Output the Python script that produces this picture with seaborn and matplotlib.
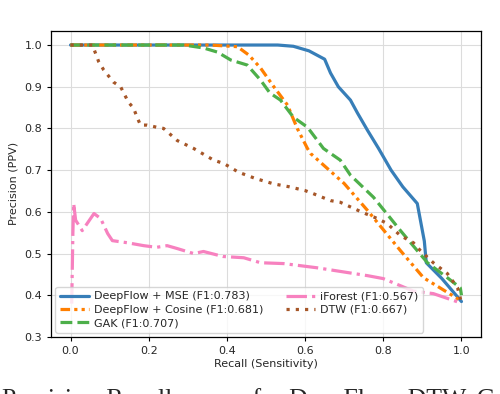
import matplotlib
matplotlib.use("Agg")
import matplotlib.pyplot as plt
import seaborn as sns
import pandas as pd

# Curvas precision-recall
mse_recall = [0.0, 0.1, 0.2, 0.3, 0.4, 0.5, 0.53, 0.57, 0.61, 0.65, 0.665, 0.685, 0.716, 0.734,
              0.76, 0.788, 0.82, 0.85, 0.887, 0.905, 0.91, 0.95, 1.0]
mse_prec = [1.0, 1.0, 1.0, 1.0, 1.0, 1.0, 1.0, 0.997, 0.986, 0.966, 0.933, 0.90, 0.868, 0.837,
            0.795, 0.752, 0.70, 0.66, 0.62, 0.53, 0.478, 0.44, 0.385]

cos_recall = [0.0, 0.2, 0.358, 0.427, 0.456, 0.486, 0.52, 0.555, 0.58, 0.606, 0.614, 0.70,
              0.76, 0.844, 0.903, 0.99, 1.0]
cos_prec = [1.0, 1.0, 1.0, 0.996, 0.976, 0.945, 0.90, 0.856, 0.80, 0.752, 0.74, 0.668,
            0.603, 0.507, 0.442, 0.392, 0.385]

gak_recall = [0.0, 0.29, 0.34, 0.376, 0.41, 0.452, 0.486, 0.51, 0.537, 0.57, 0.606, 0.647,
              0.69, 0.716, 0.775, 0.844, 0.913, 0.964, 0.997, 1.0]
gak_prec = [1.0, 1.0, 0.993, 0.983, 0.964, 0.952, 0.916, 0.885, 0.868, 0.827, 0.803, 0.752,
            0.724, 0.688, 0.635, 0.555, 0.478, 0.442, 0.418, 0.40]

if_recall = [0.003, 0.006, 0.008, 0.013, 0.03, 0.06, 0.077, 0.095, 0.107, 0.145, 0.187, 0.22,
             0.247, 0.273, 0.315, 0.34, 0.39, 0.443, 0.486, 0.545, 0.63, 0.76, 0.80, 0.877,
             0.928, 0.997]
if_prec = [0.38, 0.55, 0.62, 0.58, 0.555, 0.596, 0.584, 0.548, 0.531, 0.526, 0.519, 0.515,
           0.519, 0.512, 0.50, 0.505, 0.493, 0.49, 0.478, 0.476, 0.466, 0.447, 0.44, 0.41,
           0.404, 0.382]

dtw_recall = [0.0, 0.056, 0.064, 0.072, 0.085, 0.11, 0.128, 0.148, 0.161, 0.171, 0.179, 0.196,
              0.22, 0.238, 0.273, 0.315, 0.366, 0.392, 0.43, 0.473, 0.52, 0.56, 0.60, 0.62,
              0.665, 0.69, 0.746, 0.785, 0.81, 0.844, 0.877, 0.895, 0.928, 0.964, 0.99, 1.0]
dtw_prec = [1.0, 1.0, 0.98, 0.96, 0.94, 0.911, 0.90, 0.863, 0.849, 0.825, 0.808, 0.808,
            0.803, 0.80, 0.771, 0.752, 0.724, 0.716, 0.695, 0.68, 0.667, 0.66, 0.651, 0.644,
            0.627, 0.623, 0.599, 0.584, 0.572, 0.543, 0.526, 0.507, 0.478, 0.452, 0.418, 0.382]

labels = ["DeepFlow + MSE (F1:0.783)", "DeepFlow + Cosine (F1:0.681)", "GAK (F1:0.707)",
          "iForest (F1:0.567)", "DTW (F1:0.667)"]

sns.set_style("whitegrid", {"axes.edgecolor": "black", "grid.color": "#dcdcdc",
                            "xtick.bottom": True, "ytick.left": True})
plt.rcParams['font.family'] = ['DejaVu Sans']

pal = sns.color_palette("Set1")
colors = [pal[1], pal[4], pal[2], pal[7], pal[6]]
styles = ["-", (0, (3, 1.3, 1, 1.3, 1, 1.3)), (0, (3.7, 1.6)), (0, (6.4, 1.6, 1, 1.6)),
          (0, (1, 1.9))]

fig = plt.figure(figsize=(5, 3.94), dpi=100)
ax = fig.add_axes([0.102, 0.1447, 0.86, 0.777])

curvas = [(mse_recall, mse_prec), (cos_recall, cos_prec), (gak_recall, gak_prec),
          (if_recall, if_prec), (dtw_recall, dtw_prec)]
for (rx, py), lab, c, ls in zip(curvas, labels, colors, styles):
    df = pd.DataFrame({"recall": rx, "precision": py})
    sns.lineplot(data=df, x="recall", y="precision", ax=ax, sort=False, estimator=None,
                 color=c, linestyle=ls, linewidth=2.3, label=lab)

ax.set_xlim(-0.05, 1.05)
ax.set_ylim(0.3, 1.034)
ax.set_xticks([0.0, 0.2, 0.4, 0.6, 0.8, 1.0])
ax.set_yticks([0.3, 0.4, 0.5, 0.6, 0.7, 0.8, 0.9, 1.0])
ax.tick_params(labelsize=8, length=3, width=0.8, color="black")
for s in ax.spines.values():
    s.set_linewidth(0.9)
ax.set_xlabel("Recall (Sensitivity)", fontsize=8, labelpad=2)
ax.set_ylabel("Precision (PPV)", fontsize=8, labelpad=4)
ax.legend(ncol=2, loc="lower left", fontsize=8, labelspacing=0.3, handlelength=2.6,
          handletextpad=0.5, columnspacing=2.0, borderaxespad=0.4)

# pie de figura del articulo (cortado en el borde, como en el original)
fig.text(0.004, -0.03, "Precision-Recall curves for DeepFlow, DTW, GAK",
         family="Liberation Serif", fontsize=18.5, ha="left", va="baseline")

fig.savefig("out.png", dpi=100)
